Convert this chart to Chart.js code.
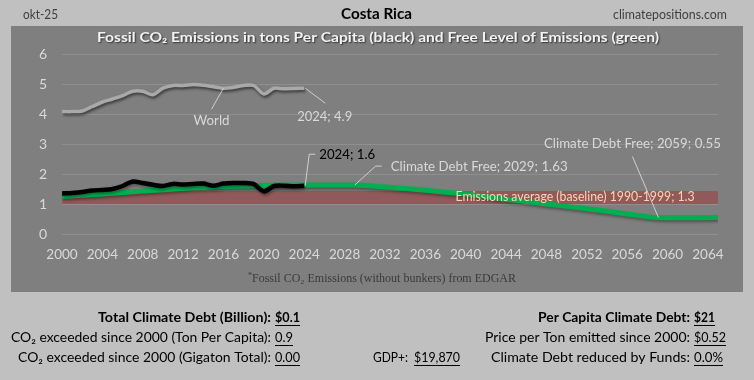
<!DOCTYPE html>
<html><head><meta charset="utf-8">
<script src="https://cdn.jsdelivr.net/npm/chart.js@4/dist/chart.umd.min.js"></script>
<style>html,body{margin:0;padding:0;background:#c0c0c0;overflow:hidden}canvas{display:block}</style>
</head><body>
<canvas id="c" width="754" height="380"></canvas>
<script>
// ---------- data ----------
const historyYears = [2000,2001,2002,2003,2004,2005,2006,2007,2008,2009,2010,2011,2012,2013,2014,2015,2016,2017,2018,2019,2020,2021,2022,2023,2024];
const costaRica = [1.35,1.37,1.40,1.45,1.47,1.50,1.60,1.75,1.70,1.64,1.60,1.67,1.65,1.67,1.68,1.61,1.68,1.70,1.70,1.66,1.42,1.60,1.61,1.59,1.61];
const world = [4.08,4.08,4.10,4.25,4.40,4.50,4.61,4.76,4.76,4.64,4.86,4.95,4.95,4.98,4.96,4.91,4.86,4.89,4.95,4.95,4.67,4.86,4.84,4.85,4.86];
const freeYears = [2000,2004,2008,2012,2016,2020,2024,2029,2032,2036,2040,2044,2048,2052,2056,2059,2065];
const freeLevel = [1.25,1.33,1.43,1.52,1.58,1.62,1.63,1.63,1.57,1.46,1.33,1.16,1.00,0.84,0.67,0.55,0.55];
const baselineYears = [2000,2065];
const baselineLow = [1.0,1.0];
const baselineHigh = [1.43,1.43];
const xTickYears = [2000,2004,2008,2012,2016,2020,2024,2028,2032,2036,2040,2044,2048,2052,2056,2060,2064];
const yTicks = [0,1,2,3,4,5,6];

const headerDate = 'okt-25';
const countryName = 'Costa Rica';
const siteName = 'climatepositions.com';
const chartTitle = 'Fossil CO\u2082 Emissions in tons Per Capita (black) and Free Level of Emissions (green)';
const footnote = 'Fossil CO\u2082 Emissions (without bunkers) from EDGAR';
const worldLabel = 'World';
const worldLastLabel = '2024; 4.9';
const crLastLabel = '2024; 1.6';
const debtFree1Label = 'Climate Debt Free; 2029; 1.63';
const debtFree2Label = 'Climate Debt Free; 2059; 0.55';
const baselineLabel = 'Emissions average (baseline) 1990-1999; 1.3';

const statsLeftLabels = ['Total Climate Debt (Billion):','CO\u2082 exceeded since 2000 (Ton Per Capita):','CO\u2082 exceeded since 2000 (Gigaton Total):'];
const statsLeftValues = ['$0.1','0.9','0.00'];
const statsRightLabels = ['Per Capita Climate Debt:','Price per Ton emitted since 2000:','Climate Debt reduced by Funds:'];
const statsRightValues = ['$21','$0.52','0.0%'];
const gdpLabel = 'GDP+:';
const gdpValue = '$19,870';

const pts = (xs, ys) => xs.map((x,i)=>({x:x,y:ys[i]}));
const FONT = 'Lato, "Open Sans", sans-serif';

function fitText(ctx, text, x, y, opts){
  ctx.save();
  ctx.font = opts.font;
  ctx.fillStyle = opts.color || '#000';
  ctx.textBaseline = 'middle';
  ctx.textAlign = 'left';
  const w = ctx.measureText(text).width;
  const tw = opts.width || w;
  const sx = tw / w;
  let left = x;
  if (opts.align === 'center') left = x - tw/2;
  else if (opts.align === 'right') left = x - tw;
  if (opts.shadow){ ctx.shadowColor = opts.shadow; ctx.shadowOffsetX = 1; ctx.shadowOffsetY = 1; ctx.shadowBlur = 1.5; }
  ctx.translate(left, y);
  ctx.scale(sx, 1);
  ctx.fillText(text, 0, 0);
  ctx.restore();
  if (opts.underline){
    ctx.save();
    ctx.strokeStyle = opts.color || '#000';
    ctx.lineWidth = 1;
    ctx.beginPath();
    ctx.moveTo(left, Math.round(y + 8) + 0.5);
    ctx.lineTo(left + tw, Math.round(y + 8) + 0.5);
    ctx.stroke();
    ctx.restore();
  }
  return left;
}

function leader(ctx, points, color){
  ctx.save();
  ctx.strokeStyle = color;
  ctx.lineWidth = 1;
  ctx.beginPath();
  points.forEach((p,i)=> i ? ctx.lineTo(p[0],p[1]) : ctx.moveTo(p[0],p[1]));
  ctx.stroke();
  ctx.restore();
}

const backgroundPlugin = {
  id: 'bg',
  beforeDraw(chart){
    const ctx = chart.ctx;
    ctx.save();
    ctx.fillStyle = '#c0c0c0';
    ctx.fillRect(0,0,chart.width,chart.height);
    ctx.fillStyle = '#7f7f7f';
    ctx.fillRect(11,26,732,266);
    ctx.restore();
  }
};

const shadowPlugin = {
  id: 'lineShadow',
  beforeDatasetDraw(chart, args){
    const ds = chart.data.datasets[args.index];
    if (ds.shadowColor){
      const c = chart.ctx; c.save();
      c.shadowColor = ds.shadowColor; c.shadowBlur = 3; c.shadowOffsetX = 1; c.shadowOffsetY = 2;
    }
  },
  afterDatasetDraw(chart, args){
    const ds = chart.data.datasets[args.index];
    if (ds.shadowColor) chart.ctx.restore();
  }
};

const textPlugin = {
  id: 'texts',
  afterDraw(chart){
    const ctx = chart.ctx;
    const xs = chart.scales.x, ys = chart.scales.y;
    const light = '#d9d9d9';
    // header
    fitText(ctx, headerDate, 23, 15, {font:'13px '+FONT, color:'#404040', width:35});
    fitText(ctx, countryName, 376.5, 14, {font:'bold 16px '+FONT, color:'#000', width:71, align:'center'});
    fitText(ctx, siteName, 727, 15, {font:'13px '+FONT, color:'#404040', width:114, align:'right'});
    // title
    fitText(ctx, chartTitle, 378, 38, {font:'bold 13px '+FONT, color:'#f2f2f2', width:562, align:'center', shadow:'rgba(0,0,0,0.6)'});
    // footnote
    const fl = fitText(ctx, footnote, 384, 279, {font:'12px "Liberation Serif", "DejaVu Serif", serif', color:'#3a3a3a', width:264, align:'center'});
    fitText(ctx, '*', fl - 4, 276, {font:'8px "Liberation Serif", serif', color:'#3a3a3a'});

    // World label
    const wi = historyYears.indexOf(2016);
    const wx = xs.getPixelForValue(2016), wy = ys.getPixelForValue(world[wi]);
    leader(ctx, [[wx, wy], [wx-12, wy+21]], '#cfcfcf');
    fitText(ctx, worldLabel, wx-12, wy+32, {font:'14px '+FONT, color:light, width:36, align:'center'});
    // World 2024
    const li = historyYears.length-1;
    const w24x = xs.getPixelForValue(historyYears[li]), w24y = ys.getPixelForValue(world[li]);
    leader(ctx, [[w24x+1, w24y], [w24x+21, w24y+15]], '#cfcfcf');
    fitText(ctx, worldLastLabel, w24x-7, w24y+28, {font:'14px '+FONT, color:light, width:55});
    // Costa Rica 2024
    const c24x = xs.getPixelForValue(historyYears[li]), c24y = ys.getPixelForValue(costaRica[li]);
    leader(ctx, [[c24x+1, c24y], [c24x+5, c24y-31.5], [c24x+11, c24y-31.5]], '#d0d0d0');
    fitText(ctx, crLastLabel, c24x+15, c24y-31.5, {font:'14px '+FONT, color:'#000', width:56});
    // Debt free 2029
    const f1 = freeYears.indexOf(2029);
    const d1x = xs.getPixelForValue(2029), d1y = ys.getPixelForValue(freeLevel[f1]);
    leader(ctx, [[d1x, d1y], [d1x+21, d1y-19], [d1x+27, d1y-19]], '#cfcfcf');
    fitText(ctx, debtFree1Label, d1x+36, d1y-19, {font:'14px '+FONT, color:light, width:177});
    // Debt free 2059
    const f2 = freeYears.indexOf(2059);
    const d2x = xs.getPixelForValue(2059), d2y = ys.getPixelForValue(freeLevel[f2]);
    leader(ctx, [[d2x+1, d2y], [d2x-25, d2y-61]], '#cfcfcf');
    fitText(ctx, debtFree2Label, d2x-25, d2y-74, {font:'14px '+FONT, color:light, width:177, align:'center'});
    // baseline label
    const bx = xs.getPixelForValue(2039), by = ys.getPixelForValue(1.3);
    fitText(ctx, baselineLabel, bx, by+2, {font:'13px '+FONT, color:'#ffd3b0', width:239});

    // stats
    const rowsY = [317, 337, 357];
    const leftW = [173, 260, 253], leftVW = [25, 18, 25];
    const rightW = [152, 205, 199], rightVW = [21, 32, 29];
    rowsY.forEach((y,i)=>{
      const bold = i === 0 ? 'bold ' : '';
      fitText(ctx, statsLeftLabels[i], 271, y, {font:bold+'14px '+FONT, color:'#000', width:leftW[i], align:'right'});
      fitText(ctx, statsLeftValues[i], 275, y, {font:bold+'14px '+FONT, color:'#000', width:leftVW[i], underline:true});
      fitText(ctx, statsRightLabels[i], 690, y, {font:bold+'14px '+FONT, color:'#000', width:rightW[i], align:'right'});
      fitText(ctx, statsRightValues[i], 694, y, {font:bold+'14px '+FONT, color:'#000', width:rightVW[i], underline:true});
    });
    fitText(ctx, gdpLabel, 408, 357, {font:'14px '+FONT, color:'#000', width:35, align:'right'});
    fitText(ctx, gdpValue, 414, 357, {font:'14px '+FONT, color:'#000', width:46, underline:true});
  }
};

new Chart(document.getElementById('c'), {
  type: 'line',
  data: {
    datasets: [
      {label:'baselineLow', data: pts(baselineYears, baselineLow), borderWidth:0, pointRadius:0, fill:false, order:5},
      {label:'baselineHigh', data: pts(baselineYears, baselineHigh), borderWidth:0, pointRadius:0, fill:'-1', backgroundColor:'rgba(160,60,60,0.55)', order:4},
      {label:'Free level', data: pts(freeYears, freeLevel), borderColor:'#00b050', borderWidth:5, pointRadius:0, tension:0.3, shadowColor:'rgba(0,0,0,0.35)', order:3},
      {label:'World', data: pts(historyYears, world), borderColor:'#a9a9a9', borderWidth:3.5, pointRadius:0, tension:0.3, shadowColor:'rgba(0,0,0,0.55)', order:2},
      {label:'Costa Rica', data: pts(historyYears, costaRica), borderColor:'#000000', borderWidth:4.5, pointRadius:0, tension:0.3, shadowColor:'rgba(0,0,0,0.35)', order:1}
    ]
  },
  options: {
    responsive:false,
    devicePixelRatio:1,
    animation:false,
    events:[],
    layout:{padding:{left:0, right:36, top:54, bottom:0}},
    plugins:{legend:{display:false}, tooltip:{enabled:false}},
    scales:{
      x:{type:'linear', min:2000, max:2065,
        afterFit(s){ s.height = 146; },
        afterBuildTicks(s){ s.ticks = xTickYears.map(v=>({value:v})); },
        grid:{display:false, drawTicks:false}, border:{display:false},
        ticks:{padding:13, color:'#d9d9d9', font:{family:FONT, size:13.5}, maxRotation:0, autoSkip:false, callback:v=>String(v)}},
      y:{min:0, max:6,
        afterFit(s){ s.width = 62; },
        afterBuildTicks(s){ s.ticks = yTicks.map(v=>({value:v})); },
        grid:{color:'rgba(255,255,255,0.13)', drawTicks:false, lineWidth:1}, border:{display:false},
        ticks:{padding:15, color:'#d9d9d9', font:{family:FONT, size:14}, callback:v=>String(v)}}
    }
  },
  plugins:[backgroundPlugin, shadowPlugin, textPlugin]
});
</script>
</body></html>
